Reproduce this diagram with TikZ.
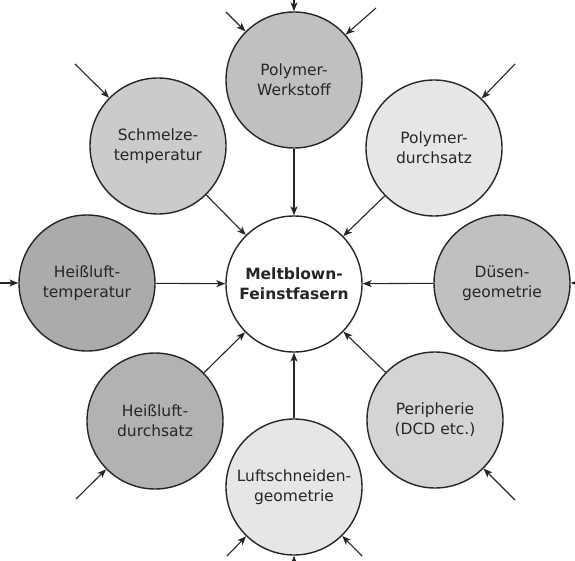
\documentclass[tikz,border=0pt]{standalone}
\usepackage{fontspec}
\setmainfont{DejaVu Sans}
\usetikzlibrary{arrows.meta}
\definecolor{gA}{HTML}{ABABAB}
\definecolor{gB}{HTML}{B2B2B2}
\definecolor{gC}{HTML}{C0C0C0}
\definecolor{gD}{HTML}{CBCBCB}
\definecolor{gE}{HTML}{D4D4D4}
\definecolor{gF}{HTML}{E6E6E6}
\tikzset{
  bubble/.style={circle, draw=black!85, line width=1.4pt, minimum size=136pt, inner sep=0pt,
    align=center, font=\fontsize{15.5}{20}\selectfont, text=black!85},
  link/.style={line width=1.1pt, draw=black!85, -{Stealth[length=9pt,width=7pt,inset=2.5pt]}},
}
\begin{document}
\begin{tikzpicture}[x=1pt,y=-1pt]
\useasboundingbox (0,0) rectangle (575,561);
\clip (0,0) rectangle (575,561);
\fill[white] (0,0) rectangle (575,561);
% nodes
\node[bubble, fill=white, font=\fontsize{15.5}{20}\selectfont\bfseries] (c) at (294,284) {Meltblown-\\Feinstfasern};
\node[bubble, fill=gC] (pw) at (294,80) {Polymer-\\Werkstoff};
\node[bubble, fill=gF] (pd) at (434,148) {Polymer-\\durchsatz};
\node[bubble, fill=gC] (dg) at (502,283) {Düsen-\\geometrie};
\node[bubble, fill=gE] (pe) at (435,420) {Peripherie\\(DCD etc.)};
\node[bubble, fill=gF] (lg) at (294,487) {Luftschneiden-\\geometrie};
\node[bubble, fill=gB] (hd) at (155,421) {Heißluft-\\durchsatz};
\node[bubble, fill=gA] (ht) at (87,283) {Heißluft-\\temperatur};
\node[bubble, fill=gD] (st) at (158,146) {Schmelze-\\temperatur};
% inner connectors
\foreach \n in {pw,pd,dg,pe,lg,hd,ht,st}{
  \draw[link] (\n) -- (c);
}
% outer incoming arrows
\coordinate (pw1) at (226,12);
\coordinate (pw2) at (294,-40);
\coordinate (pw3) at (376,8);
\coordinate (st1) at (75,64);
\coordinate (pd1) at (515,64);
\coordinate (ht1) at (-40,283);
\coordinate (dg1) at (620,283);
\coordinate (pe1) at (515,500);
\coordinate (hd1) at (76,499);
\coordinate (lg1) at (227,556);
\coordinate (lg2) at (294,600);
\coordinate (lg3) at (362,556);
\draw[link] (pw1) -- (pw);
\draw[link] (pw2) -- (pw);
\draw[link] (pw3) -- (pw);
\draw[link] (st1) -- (st);
\draw[link] (pd1) -- (pd);
\draw[link] (ht1) -- (ht);
\draw[link] (dg1) -- (dg);
\draw[link] (pe1) -- (pe);
\draw[link] (hd1) -- (hd);
\draw[link] (lg1) -- (lg);
\draw[link] (lg2) -- (lg);
\draw[link] (lg3) -- (lg);
\end{tikzpicture}
\end{document}
